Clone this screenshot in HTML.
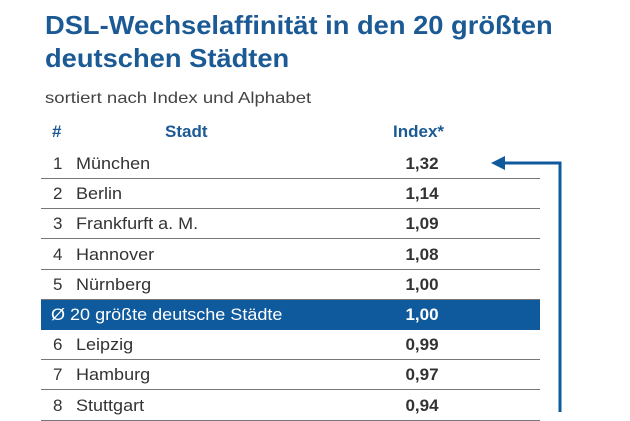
<!DOCTYPE html>
<html><head><meta charset="utf-8"><style>
body{margin:0;width:630px;height:412px;background:#fff;overflow:hidden;position:relative;font-family:"Liberation Sans",sans-serif}
.t{position:absolute;left:45px;font-weight:bold;font-size:26px;color:#1b5a94;white-space:nowrap;transform-origin:left top;transform:scaleX(1.05)}
.sub{position:absolute;left:45px;top:90px;font-size:16px;color:#444;white-space:nowrap;transform-origin:left top;transform:scaleX(1.16)}
.h{position:absolute;top:122px;font-size:17px;font-weight:bold;color:#1b5a94}
.row{position:absolute;left:41px;width:499px;height:30px;border-bottom:1.5px solid #777;box-sizing:border-box;font-size:17px;color:#333}
.row .n{position:absolute;left:12px;top:5px}
.row .c{position:absolute;left:35px;top:5px;white-space:nowrap;transform-origin:left top;transform:scaleX(1.06)}
.row .v{position:absolute;left:360px;top:5px;font-weight:bold;width:42px;text-align:center}
.row.avg{background:#0f5a9c;color:#fff;border-bottom:none}
.row.avg .c{left:10px}
</style></head><body>
<div class="t" style="top:10px">DSL-Wechselaffinität in den 20 größten</div>
<div class="t" style="top:43px">deutschen Städten</div>
<div class="sub">sortiert nach Index und Alphabet</div>
<div class="h" style="left:52px">#</div>
<div class="h" style="left:165px">Stadt</div>
<div class="h" style="left:393px">Index*</div>
<div id="tbl"></div>
<svg style="position:absolute;left:0;top:0" width="630" height="412">
<polyline points="560,412 560,163 500,163" fill="none" stroke="#0f5a9c" stroke-width="3"/>
<polygon points="491,163 505,156 505,170" fill="#0f5a9c"/>
</svg>
<script>
const ranks=["1","2","3","4","5","Ø","6","7","8"];
const cities=["München","Berlin","Frankfurft a. M.","Hannover","Nürnberg","20 größte deutsche Städte","Leipzig","Hamburg","Stuttgart"];
const values=[1.32,1.14,1.09,1.08,1.00,1.00,0.99,0.97,0.94];
const tbl=document.getElementById('tbl');
cities.forEach((c,i)=>{
  const r=document.createElement('div');
  r.className='row'+(ranks[i]==='Ø'?' avg':'');
  
  
  r.style.top=(149+i*30.2)+'px';
  if(ranks[i]==='Ø'){r.innerHTML='<span class="c">Ø '+c+'</span>';}
  else r.innerHTML='<span class="n">'+ranks[i]+'</span><span class="c">'+c+'</span>';
  const v=document.createElement('span');v.className='v';
  v.textContent=values[i].toFixed(2).replace('.',',');
  r.appendChild(v);tbl.appendChild(r);
});
</script>
</body></html>
